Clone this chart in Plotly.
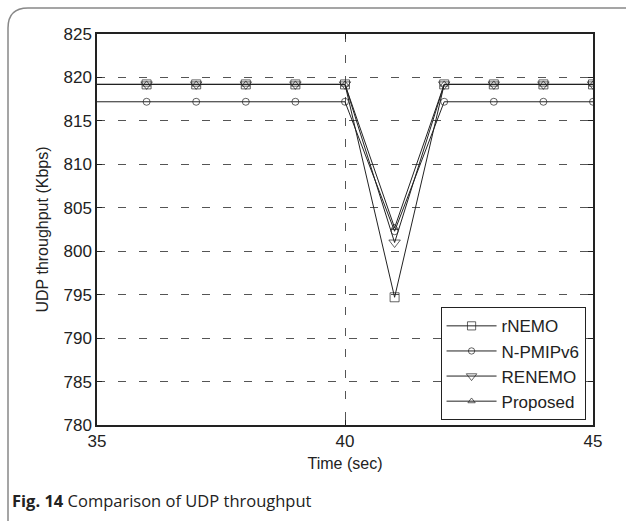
import plotly.graph_objects as go

time = [35, 36, 37, 38, 39, 40, 41, 42, 43, 44, 45]
rnemo = [819.2, 819.2, 819.2, 819.2, 819.2, 819.2, 794.7, 819.2, 819.2, 819.2, 819.2]
npmipv6 = [817.2, 817.2, 817.2, 817.2, 817.2, 817.2, 802.3, 817.2, 817.2, 817.2, 817.2]
renemo = [819.2, 819.2, 819.2, 819.2, 819.2, 819.2, 801.0, 819.2, 819.2, 819.2, 819.2]
proposed = [819.2, 819.2, 819.2, 819.2, 819.2, 819.2, 802.7, 819.2, 819.2, 819.2, 819.2]

series = [
    ("rNEMO", rnemo, "square-open", 9),
    ("N-PMIPv6", npmipv6, "circle-open", 7),
    ("RENEMO", renemo, "triangle-down-open", 10),
    ("Proposed", proposed, "triangle-up-open", 7),
]

fig = go.Figure()
for name, vals, sym, sz in series:
    sizes = [0] + [sz] * (len(time) - 1)
    fig.add_trace(go.Scatter(
        x=time, y=vals, name=name, mode="lines+markers", cliponaxis=True,
        line=dict(color="#222222", width=1),
        marker=dict(symbol=sym, size=sizes, color="#222222",
                    line=dict(color="#222222", width=1)),
    ))

FONT = "Liberation Sans, Arial, sans-serif"
axis_font = dict(family=FONT, size=17, color="#222222")

fig.update_layout(
    width=626, height=521,
    margin=dict(l=97, r=33, t=34, b=96),
    paper_bgcolor="white", plot_bgcolor="white",
    showlegend=True,
    legend=dict(
        x=0.985, y=0.012, xanchor="right", yanchor="bottom",
        bordercolor="#222222", borderwidth=1, bgcolor="white",
        font=dict(family=FONT, size=17, color="#222222"),
        itemwidth=50, tracegroupgap=0,
    ),
    xaxis=dict(
        range=[35, 45], tickvals=[35, 40, 45], ticks="inside", ticklen=5,
        tickcolor="#222222", showline=True, linecolor="#222222", linewidth=1.5,
        mirror="ticks", showgrid=True, gridcolor="#555555", griddash="8px,13px",
        gridwidth=1, zeroline=False, tickfont=axis_font,
        title=dict(text="Time (sec)", font=dict(family=FONT, size=16, color="#222222"), standoff=8),
    ),
    yaxis=dict(
        range=[780, 825], tickvals=list(range(780, 826, 5)), ticks="inside", ticklen=5,
        tickcolor="#222222", showline=True, linecolor="#222222", linewidth=1.5,
        mirror="ticks", showgrid=True, gridcolor="#555555", griddash="8px,13px",
        gridwidth=1, zeroline=False, tickfont=axis_font,
        title=dict(text="UDP throughput (Kbps)", font=dict(family=FONT, size=16, color="#222222"), standoff=11),
    ),
)

# outer rounded frame of the figure panel
fig.add_shape(
    type="path", xsizemode="pixel", ysizemode="pixel",
    xref="paper", yref="paper", xanchor=0, yanchor=1,
    path="M -89,-600 L -89,6 Q -89,26 -69,26 L 700,26",
    line=dict(color="#888888", width=1.5), layer="below",
)

fig.add_annotation(
    x=0, y=0, xref="paper", yref="paper", xanchor="left", yanchor="middle",
    xshift=-87, yshift=-75,
    text="<b>Fig. 14</b> Comparison of UDP throughput",
    showarrow=False, align="left",
    font=dict(family="Open Sans, Noto Sans, sans-serif", size=16.5, color="#222222"),
)

fig.write_html("out.html")
